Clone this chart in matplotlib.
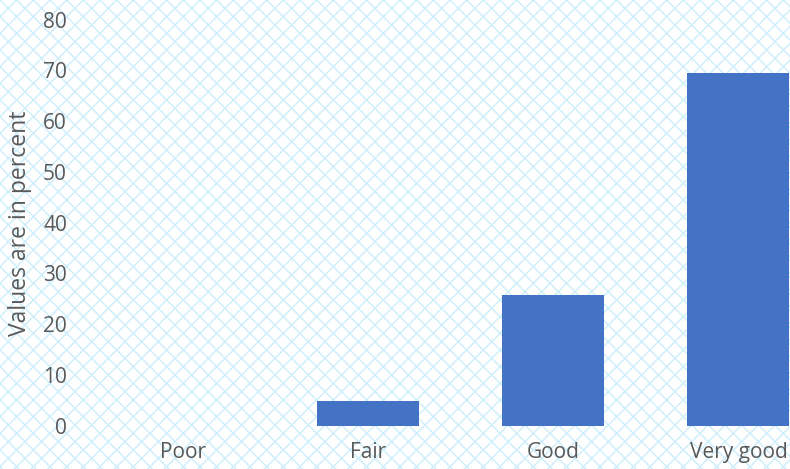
import matplotlib
matplotlib.use("Agg")
import matplotlib.pyplot as plt
from matplotlib.patches import Rectangle

categories = ["Poor", "Fair", "Good", "Very good"]
values = [0, 4.8, 25.8, 69.4]
yticks = [0, 10, 20, 30, 40, 50, 60, 70, 80]
ylabel = "Values are in percent"

plt.rcParams['font.family'] = ['Open Sans', 'DejaVu Sans']
plt.rcParams['hatch.linewidth'] = 1.0

W, H = 790, 469
fig = plt.figure(figsize=(W / 100, H / 100), dpi=100)
fig.patch.set_facecolor('white')
bg = Rectangle((0, 0), 1, 1, transform=fig.transFigure, facecolor='white',
               edgecolor='#cdeefc', hatch='xx', linewidth=0, zorder=-10)
fig.add_artist(bg)

left_px, zero_px, top_px = 89.85, 425.5, 19.5
ax = fig.add_axes([left_px / W, (H - zero_px) / H, (W - left_px) / W, (zero_px - top_px) / H])
ax.set_facecolor('none')

x = list(range(len(categories)))
ax.bar(x, values, width=0.55, color='#4472C4', zorder=3)
step = 185.3
ax.set_xlim(-0.5, (W - left_px) / step - 0.5)
ax.set_ylim(0, 80)
ax.set_yticks(yticks)
ax.set_yticklabels([str(v) for v in yticks])
ax.set_xticks(x)
ax.set_xticklabels(categories)
for s in ax.spines.values():
    s.set_visible(False)
ax.tick_params(axis='both', length=0, labelsize=15, labelcolor='#595959')
ax.tick_params(axis='y', pad=16.5)
ax.tick_params(axis='x', pad=12)

fig.text(20 / W, 1 - 223.5 / H, ylabel, rotation=90, ha='center', va='center',
         fontsize=16.5, color='#595959')

fig.savefig('out.png', dpi=100)
